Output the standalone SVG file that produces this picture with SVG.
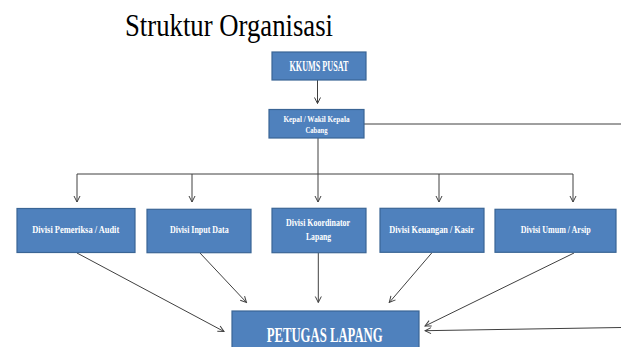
<svg xmlns="http://www.w3.org/2000/svg" width="621" height="347" viewBox="0 0 621 347">
<style>
.box{fill:#4F81BD;stroke:#3A6595;stroke-width:1.2}
.lbl{font-family:"Liberation Serif","Times New Roman",serif;font-weight:bold;fill:#ffffff;text-anchor:middle}
.ln{fill:none;stroke:#404040;stroke-width:1}
.title{font-family:"Liberation Serif","Times New Roman",serif;fill:#000}
</style>
<defs>
<marker id="ah" markerWidth="8" markerHeight="8" refX="7" refY="4" orient="auto" markerUnits="userSpaceOnUse">
<polyline points="1,1 7,4 1,7" fill="none" stroke="#404040" stroke-width="1"/>
</marker>
</defs>
<rect width="621" height="347" fill="#ffffff"/>
<text class="title" x="125" y="36" font-size="31" textLength="208" lengthAdjust="spacingAndGlyphs">Struktur Organisasi</text>

<g id="connectors">
<line class="ln" x1="317.5" y1="80" x2="317.5" y2="103.5" marker-end="url(#ah)"/>
<line class="ln" x1="364" y1="124" x2="621" y2="124"/>
<line class="ln" x1="318" y1="138" x2="318" y2="174"/>
<polyline class="ln" points="77,174 573,174"/>
<line class="ln" x1="77" y1="174" x2="77" y2="202" marker-end="url(#ah)"/>
<line class="ln" x1="192" y1="174" x2="192" y2="202" marker-end="url(#ah)"/>
<line class="ln" x1="318" y1="174" x2="318" y2="202" marker-end="url(#ah)"/>
<line class="ln" x1="439" y1="174" x2="439" y2="202" marker-end="url(#ah)"/>
<line class="ln" x1="573" y1="174" x2="573" y2="202" marker-end="url(#ah)"/>
<line class="ln" x1="77" y1="253" x2="224" y2="331.5" marker-end="url(#ah)"/>
<line class="ln" x1="200" y1="253" x2="246.5" y2="302.5" marker-end="url(#ah)"/>
<line class="ln" x1="318.3" y1="253" x2="318.3" y2="302.5" marker-end="url(#ah)"/>
<line class="ln" x1="431.7" y1="253" x2="389.3" y2="302.5" marker-end="url(#ah)"/>
<line class="ln" x1="574" y1="253" x2="425" y2="326" marker-end="url(#ah)"/>
<line class="ln" x1="621" y1="327.5" x2="425" y2="330.7" marker-end="url(#ah)"/>
</g>

<g id="kkums">
<rect class="box" x="272" y="52" width="94" height="28"/>
<text class="lbl" x="319" y="71" font-size="14" textLength="59" lengthAdjust="spacingAndGlyphs">KKUMS PUSAT</text>
</g>
<g id="kepala">
<rect class="box" x="269" y="109.5" width="95" height="28.5"/>
<text class="lbl" x="316.5" y="121.7" font-size="9" textLength="66" lengthAdjust="spacingAndGlyphs">Kepal / Wakil Kepala</text>
<text class="lbl" x="316.5" y="132.5" font-size="9" textLength="22" lengthAdjust="spacingAndGlyphs">Cabang</text>
</g>
<g id="audit">
<rect class="box" x="17" y="208.5" width="118" height="44"/>
<text class="lbl" x="75.7" y="232.7" font-size="10" textLength="87" lengthAdjust="spacingAndGlyphs">Divisi Pemeriksa / Audit</text>
</g>
<g id="input">
<rect class="box" x="147" y="209.3" width="104" height="43.4"/>
<text class="lbl" x="199.3" y="233.3" font-size="10" textLength="58.7" lengthAdjust="spacingAndGlyphs">Divisi Input Data</text>
</g>
<g id="koordinator">
<rect class="box" x="272" y="208.3" width="94" height="44.4"/>
<text class="lbl" x="318" y="225.7" font-size="10" textLength="64" lengthAdjust="spacingAndGlyphs">Divisi Koordinator</text>
<text class="lbl" x="318.5" y="239.5" font-size="10" textLength="25" lengthAdjust="spacingAndGlyphs">Lapang</text>
</g>
<g id="keuangan">
<rect class="box" x="380" y="208.3" width="104" height="44"/>
<text class="lbl" x="431.7" y="232.7" font-size="10" textLength="84.7" lengthAdjust="spacingAndGlyphs">Divisi Keuangan / Kasir</text>
</g>
<g id="umum">
<rect class="box" x="495" y="209.3" width="121" height="43"/>
<text class="lbl" x="555.7" y="232.7" font-size="10" textLength="70" lengthAdjust="spacingAndGlyphs">Divisi Umum / Arsip</text>
</g>
<g id="petugas">
<rect class="box" x="232" y="311" width="187" height="45"/>
<text class="lbl" x="324.7" y="342" font-size="22" textLength="116" lengthAdjust="spacingAndGlyphs">PETUGAS LAPANG</text>
</g>
</svg>
